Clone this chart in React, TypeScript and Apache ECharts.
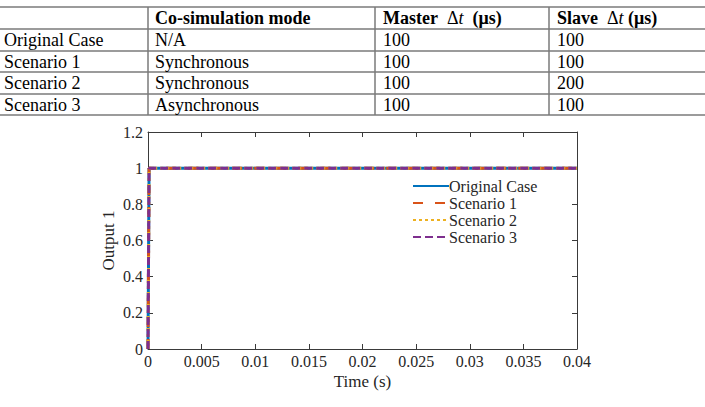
import React, { useEffect, useRef } from "react";
import * as echarts from "echarts";

// ---- table data ----
const tableRowNames = ["Original Case", "Scenario 1", "Scenario 2", "Scenario 3"];
const tableModes = ["N/A", "Synchronous", "Synchronous", "Asynchronous"];
const tableMasterDt = ["100", "100", "100", "100"];
const tableSlaveDt = ["100", "100", "200", "100"];

// ---- chart data ----
const time = [0, 0.0001, 0.04];
const originalCase = [0, 1, 1];
const scenario1 = [0, 1, 1];
const scenario2 = [0, 1, 1];
const scenario3 = [0, 1, 1];
const seriesNames = ["Original Case", "Scenario 1", "Scenario 2", "Scenario 3"];
const xTicks = { min: 0, max: 0.04, interval: 0.005 };
const yTicks = { min: 0, max: 1.2, interval: 0.2 };

const SERIF = "'Liberation Serif', 'Times New Roman', serif";

export default function App() {
  const ref = useRef<HTMLDivElement>(null);
  useEffect(() => {
    if (!ref.current) return;
    const chart = echarts.init(ref.current, undefined, { renderer: "svg" });

    // table geometry
    const rowLines = [7, 29, 51, 72, 94, 115];
    const colLines = [148, 375, 549];
    const colTextX = [4, 155, 383, 557];
    const lineStyle = { stroke: "#7a7a7a", lineWidth: 1.5 };
    const graphics: any[] = [];
    rowLines.forEach((y) =>
      graphics.push({ type: "line", shape: { x1: 0, y1: y, x2: 705, y2: y }, style: lineStyle, silent: true })
    );
    colLines.forEach((x) =>
      graphics.push({ type: "line", shape: { x1: x, y1: rowLines[0], x2: x, y2: rowLines[5] }, style: lineStyle, silent: true })
    );
    const rich = {
      b: { fontFamily: SERIF, fontSize: 18, fontWeight: "bold", fill: "#000" },
      d: { fontFamily: SERIF, fontSize: 18, fill: "#000" },
      i: { fontFamily: SERIF, fontSize: 18, fontStyle: "italic", fill: "#000" },
    };
    const headers = [
      "",
      "{b|Co-simulation mode}",
      "{b|Master  }{d|Δ}{i|t}{b|  (μs)}",
      "{b|Slave  }{d|Δ}{i|t}{b| (μs)}",
    ];
    const headerY = (rowLines[0] + rowLines[1]) / 2;
    headers.forEach((h, c) => {
      if (!h) return;
      graphics.push({
        type: "text",
        x: colTextX[c],
        y: headerY,
        style: { text: h, rich, verticalAlign: "middle", align: "left" },
        silent: true,
      });
    });
    const cols = [tableRowNames, tableModes, tableMasterDt, tableSlaveDt];
    tableRowNames.forEach((_, r) => {
      const cy = (rowLines[r + 1] + rowLines[r + 2]) / 2;
      cols.forEach((col, c) => {
        graphics.push({
          type: "text",
          x: colTextX[c],
          y: cy,
          style: {
            text: col[r],
            fontFamily: SERIF,
            fontSize: 18,
            fill: "#000",
            verticalAlign: "middle",
            align: "left",
          },
          silent: true,
        });
      });
    });

    const axisColor = "#3a3a3a";
    const labelColor = "#262626";
    const mkX = (pos: "bottom" | "top", main: boolean) => ({
      type: "value",
      show: true,
      position: pos,
      min: xTicks.min,
      max: xTicks.max,
      interval: xTicks.interval,
      name: main ? "Time (s)" : "",
      nameLocation: "middle",
      nameGap: 24,
      nameMoveOverlap: false,
      nameTextStyle: { fontFamily: SERIF, fontSize: 17, color: labelColor },
      axisLine: { show: true, onZero: false, lineStyle: { color: axisColor, width: 1 } },
      axisTick: { show: true, inside: true, length: 5, lineStyle: { color: axisColor } },
      axisLabel: {
        show: main,
        fontFamily: SERIF,
        fontSize: 16,
        color: labelColor,
        margin: 4,
      },
      splitLine: { show: false },
    });
    const mkY = (pos: "left" | "right", main: boolean) => ({
      type: "value",
      show: true,
      position: pos,
      min: yTicks.min,
      max: yTicks.max,
      interval: yTicks.interval,
      name: main ? "Output 1" : "",
      nameLocation: "middle",
      nameGap: 31,
      nameMoveOverlap: false,
      nameTextStyle: { fontFamily: SERIF, fontSize: 17, color: labelColor },
      axisLine: { show: true, onZero: false, lineStyle: { color: axisColor, width: 1 } },
      axisTick: { show: true, inside: true, length: 5, lineStyle: { color: axisColor } },
      axisLabel: {
        show: main,
        fontFamily: SERIF,
        fontSize: 16,
        color: labelColor,
        margin: 5,
      },
      splitLine: { show: false },
    });

    const colors = ["#0072BD", "#D95319", "#EDB120", "#7E2F8E"];
    const dashes: any[] = ["solid", [10, 12], [3, 3], [8, 4]];
    const values = [originalCase, scenario1, scenario2, scenario3];

    chart.setOption({
      animation: false,
      backgroundColor: "#ffffff",
      graphic: graphics,
      grid: { left: 148, right: 128, top: 132, bottom: 58, containLabel: false },
      xAxis: [mkX("bottom", true), mkX("top", false)],
      yAxis: [mkY("left", true), mkY("right", false)],
      legend: {
        orient: "vertical",
        left: 412,
        top: 178,
        padding: 0,
        itemWidth: 36,
        itemHeight: 12,
        itemGap: 1,
        itemStyle: { opacity: 0 },
        textStyle: { fontFamily: SERIF, fontSize: 16, color: labelColor, padding: [0, 0, 0, -5] },
        data: seriesNames,
      },
      series: values.map((v, i) => ({
        name: seriesNames[i],
        type: "line",
        xAxisIndex: 0,
        yAxisIndex: 0,
        symbol: "none",
        showSymbol: false,
        color: colors[i],
        lineStyle: { color: colors[i], width: 3, type: dashes[i] },
        data: time.map((t, k) => [t, v[k]]),
        z: 2 + i,
      })),
    });
    return () => chart.dispose();
  }, []);
  return (
    <div
      ref={ref}
      style={{ position: "absolute", left: 0, top: 0, width: 705, height: 407, background: "#fff" }}
    />
  );
}
